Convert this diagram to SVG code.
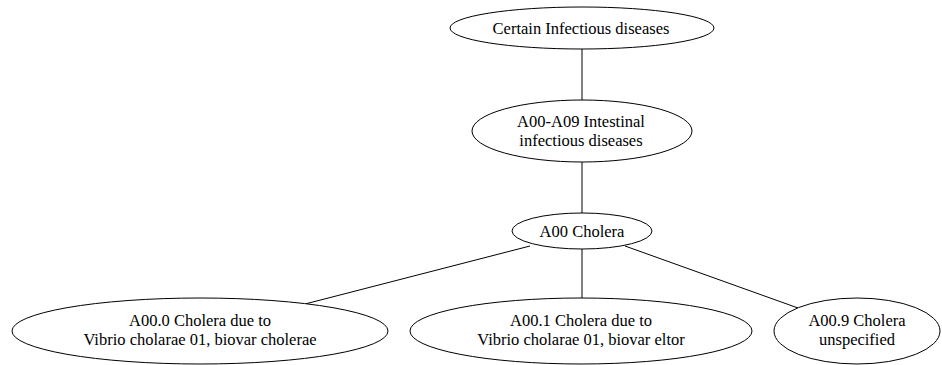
<svg xmlns="http://www.w3.org/2000/svg" width="942" height="365" viewBox="0 0 942 365">
<style>
ellipse{fill:#fff;stroke:#000;stroke-width:1}
text{font-family:"Liberation Serif","Times New Roman",Times,serif;font-size:16.5px;fill:#000;text-anchor:middle}
.e{stroke:#000;stroke-width:1;fill:none}
</style>
<rect width="942" height="365" fill="#fff"/>
<g id="connectors">
<path class="e" d="M582,49 L582,100"/>
<path class="e" d="M582,162 L582,213"/>
<path class="e" d="M530,246 L305,304"/>
<path class="e" d="M582,249 L582,298"/>
<path class="e" d="M625,246 L798,308"/>
</g>
<g id="n0"><ellipse cx="582" cy="28" rx="132" ry="21"/><text x="581" y="34">Certain Infectious diseases</text></g>
<g id="n1"><ellipse cx="582" cy="131" rx="110" ry="31"/><text x="581" y="127">A00-A09 Intestinal</text><text x="581" y="146">infectious diseases</text></g>
<g id="n2"><ellipse cx="582" cy="231" rx="70" ry="18"/><text x="582" y="237">A00 Cholera</text></g>
<g id="n3"><ellipse cx="200" cy="331" rx="188" ry="33"/><text x="200" y="326">A00.0 Cholera due to</text><text x="200" y="345">Vibrio cholarae 01, biovar cholerae</text></g>
<g id="n4"><ellipse cx="581" cy="331" rx="171" ry="33"/><text x="581" y="326">A00.1 Cholera due to</text><text x="581" y="345">Vibrio cholarae 01, biovar eltor</text></g>
<g id="n5"><ellipse cx="857" cy="331" rx="83" ry="33"/><text x="857" y="326">A00.9 Cholera</text><text x="857" y="345">unspecified</text></g>
</svg>
